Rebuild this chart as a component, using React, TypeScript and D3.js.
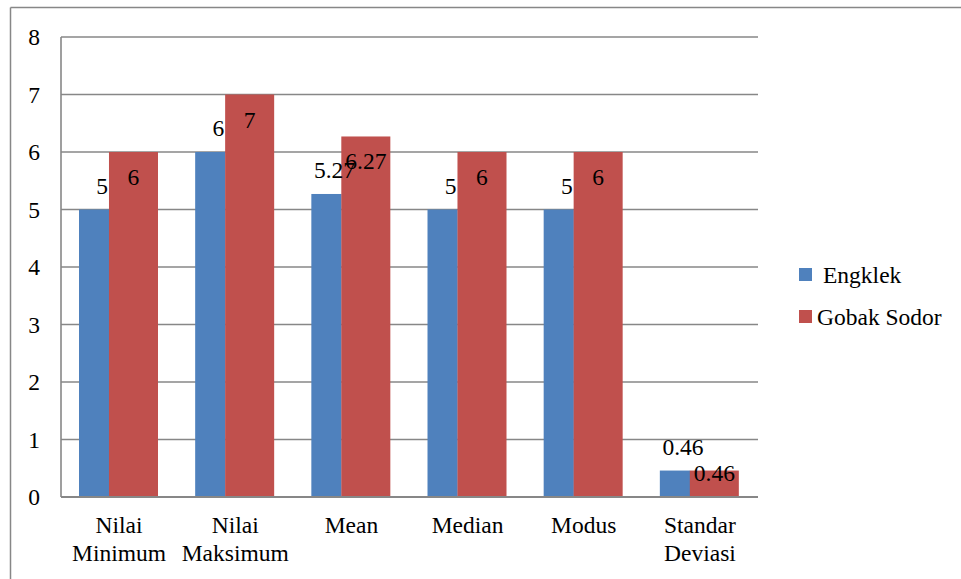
import React, { useEffect } from "react";
import * as d3 from "d3";

const categories: string[][] = [
  ["Nilai", "Minimum"],
  ["Nilai", "Maksimum"],
  ["Mean"],
  ["Median"],
  ["Modus"],
  ["Standar", "Deviasi"],
];
const engklek: number[] = [5, 6, 5.27, 5, 5, 0.46];
const gobakSodor: number[] = [6, 7, 6.27, 6, 6, 0.46];
const seriesNames: string[] = ["Engklek", "Gobak Sodor"];
const yTicks: number[] = [0, 1, 2, 3, 4, 5, 6, 7, 8];

const W = 961;
const H = 579;
const plot = { left: 61, right: 758, top: 37, bottom: 497 };
const BLUE = "#4F81BD";
const RED = "#C0504D";
const GRID = "#878787";
const FS = 23.5;
const TS: React.CSSProperties = { fontFamily: '"Liberation Serif"', fontSize: FS };

export default function App() {
  useEffect(() => {
    document.body.style.margin = "0";
  }, []);

  const keys = categories.map((c) => c.join(" "));
  const x = d3.scaleBand<string>().domain(keys).range([plot.left, plot.right]).padding(0);
  const y = d3.scaleLinear().domain([0, 8]).range([plot.bottom, plot.top]);
  const bw = x.bandwidth();

  return (
    <svg width={W} height={H} style={{ display: "block" }}>
      <rect x={0} y={0} width={W} height={H} fill="#fff" />
      {/* outer chart border */}
      <line x1={10.5} y1={7.5} x2={W} y2={7.5} stroke={GRID} strokeWidth={1.5} />
      <line x1={10.5} y1={7.5} x2={10.5} y2={H} stroke={GRID} strokeWidth={1.5} />

      {/* gridlines */}
      {yTicks.map((t) => (
        <line key={"g" + t} x1={plot.left} x2={plot.right} y1={y(t)} y2={y(t)} stroke={GRID} strokeWidth={1.6} />
      ))}
      <line x1={plot.left} x2={plot.left} y1={plot.top} y2={plot.bottom} stroke={GRID} strokeWidth={1.6} />

      {/* y tick labels */}
      {yTicks.map((t) => (
        <text key={"t" + t} x={40} y={y(t) + 8} textAnchor="end" style={TS} fill="#000">
          {t}
        </text>
      ))}

      {/* bars */}
      {keys.map((k, i) => {
        const x0 = x(k)!;
        const bx = x0 + bw * 0.155;
        const bwid = bw * 0.26;
        const rx = x0 + bw * 0.413;
        const rwid = bw * 0.422;
        const yb = y(engklek[i]);
        const yr = y(gobakSodor[i]);
        return (
          <g key={k}>
            <rect x={bx} y={yb} width={bwid} height={plot.bottom - yb} fill={BLUE} />
            <rect x={rx} y={yr} width={rwid} height={plot.bottom - yr} fill={RED} />
          </g>
        );
      })}
      {/* axis line over bars */}
      <line x1={plot.left} x2={plot.right} y1={plot.bottom} y2={plot.bottom} stroke={GRID} strokeWidth={2} />

      {/* data labels */}
      {keys.map((k, i) => {
        const x0 = x(k)!;
        const bcx = x0 + bw * 0.155 + (bw * 0.26) / 2 + 8;
        const rcx = x0 + bw * 0.413 + (bw * 0.422) / 2;
        const yb = y(engklek[i]);
        const yr = y(gobakSodor[i]);
        const rh = plot.bottom - yr;
        return (
          <g key={"l" + k} fill="#000">
            <text x={bcx} y={yb - 16} textAnchor="middle" style={TS}>{String(engklek[i])}</text>
            <text x={rcx} y={yr + Math.min(33, rh * 0.38)} textAnchor="middle" style={TS}>{String(gobakSodor[i])}</text>
          </g>
        );
      })}

      {/* category labels */}
      {categories.map((c, i) => {
        const cx = x(keys[i])! + bw / 2;
        return (
          <text key={"c" + i} x={cx} y={533} textAnchor="middle" style={TS} fill="#000">
            {c.map((line, j) => (
              <tspan key={j} x={cx} dy={j === 0 ? 0 : 28}>
                {line}
              </tspan>
            ))}
          </text>
        );
      })}

      {/* legend */}
      <g fill="#000">
        <rect x={799} y={268} width={13} height={13} fill={BLUE} />
        <text x={823} y={283} style={TS}>{seriesNames[0]}</text>
        <rect x={799} y={310} width={13} height={13} fill={RED} />
        <text x={817} y={325} style={TS}>{seriesNames[1]}</text>
      </g>
    </svg>
  );
}
